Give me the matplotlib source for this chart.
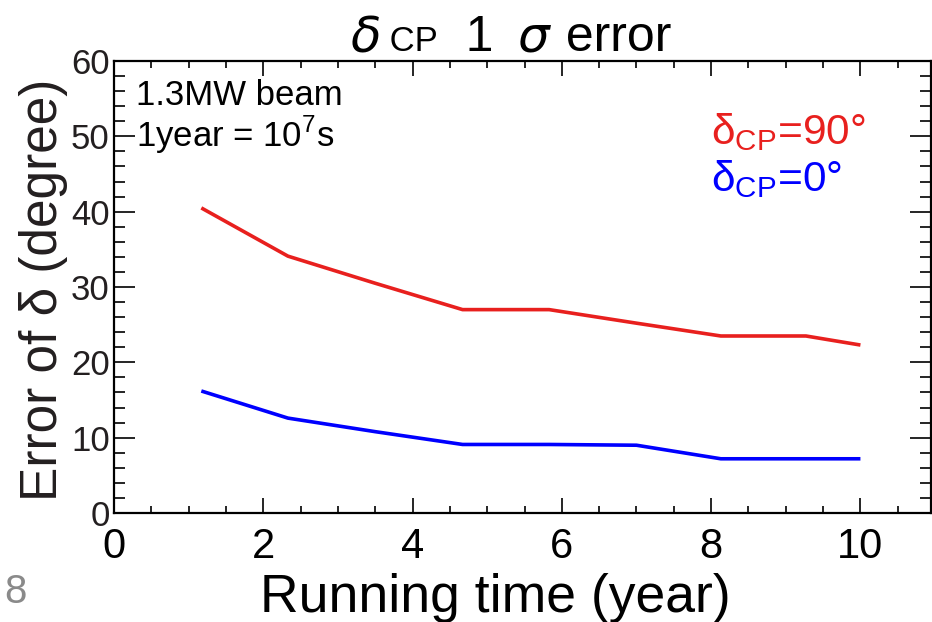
import matplotlib
matplotlib.use("Agg")
import matplotlib.pyplot as plt
from matplotlib.ticker import MultipleLocator
from matplotlib.offsetbox import TextArea, HPacker, AnchoredOffsetbox

plt.rcParams['font.family'] = ['Liberation Sans', 'DejaVu Sans']
plt.rcParams['mathtext.fontset'] = 'custom'
plt.rcParams['mathtext.rm'] = 'Liberation Sans'
plt.rcParams['mathtext.it'] = 'DejaVu Sans:italic'

# running time (year) and 1 sigma error on delta_CP (degree)
years = [1.17, 2.33, 3.5, 4.67, 5.83, 7.0, 8.13, 9.27, 10.0]
err_dcp90 = [40.5, 34.1, 30.5, 27.0, 27.0, 25.2, 23.5, 23.5, 22.3]
err_dcp0 = [16.2, 12.6, 10.8, 9.1, 9.1, 9.0, 7.2, 7.2, 7.2]

red = '#e8201e'
blue = '#0000ff'
dark = '#231f20'

fig = plt.figure(figsize=(9.32, 6.22), dpi=100)
ax = fig.add_axes([0.1223, 0.1752, 0.877, 0.7267])

ax.plot(years, err_dcp90, color=red, lw=2.6, solid_capstyle='butt')
ax.plot(years, err_dcp0, color=blue, lw=2.6, solid_capstyle='butt')

ax.set_xlim(0, 10.95)
ax.set_ylim(0, 60)
ax.xaxis.set_major_locator(MultipleLocator(2))
ax.xaxis.set_minor_locator(MultipleLocator(0.5))
ax.yaxis.set_major_locator(MultipleLocator(10))
ax.yaxis.set_minor_locator(MultipleLocator(2))

for s in ax.spines.values():
    s.set_linewidth(1.6)

ax.tick_params(axis='x', which='both', direction='in', top=True, width=1.2,
               labelsize=30, pad=10)
ax.tick_params(axis='x', which='major', length=11)
ax.tick_params(axis='x', which='minor', length=5)
ax.tick_params(axis='y', which='both', direction='in', right=True, width=1.2,
               labelsize=25, pad=3, labelcolor=dark)
ax.tick_params(axis='y', which='major', length=15)
ax.tick_params(axis='y', which='minor', length=8)

ax.set_xlabel('Running time (year)', fontsize=38.5)
ax.xaxis.set_label_coords(0.466, -0.132)
ax.set_ylabel('Error of δ (degree)', fontsize=37, color=dark)
ax.yaxis.set_label_coords(-0.056, 0.493)

# title: italic delta, small "CP" on the baseline, "1 sigma error"
big = dict(fontsize=36, color='black')
small = dict(fontsize=25, color='black')
title = HPacker(children=[TextArea(r'$\delta$', textprops=big),
                          TextArea(' CP', textprops=small),
                          TextArea('  1 ', textprops=big),
                          TextArea(' ', textprops=small),
                          TextArea(r'$\sigma$', textprops=big),
                          TextArea(' error', textprops=big)],
                align='baseline', pad=0, sep=0)
ax.add_artist(AnchoredOffsetbox(loc='lower center', child=title, pad=0,
                                borderpad=0, frameon=False,
                                bbox_to_anchor=(0.485, 1.0),
                                bbox_transform=ax.transAxes))

ax.text(0.027, 0.96, '1.3MW beam\n' + r'1year = 10$^{\mathregular{7}}$s',
        transform=ax.transAxes, fontsize=25, va='top', ha='left',
        linespacing=1.05)
ax.text(0.731, 0.816, r'δ$_{\mathregular{CP}}$=90°', transform=ax.transAxes,
        fontsize=30.5, color=red, ha='left')
ax.text(0.731, 0.713, r'δ$_{\mathregular{CP}}$=0°', transform=ax.transAxes,
        fontsize=30.5, color=blue, ha='left')

# stray page number from the slide
fig.text(0.005, 0.031, '8', fontsize=29, color='#8a8a8a')

fig.savefig('out.png', dpi=100)
